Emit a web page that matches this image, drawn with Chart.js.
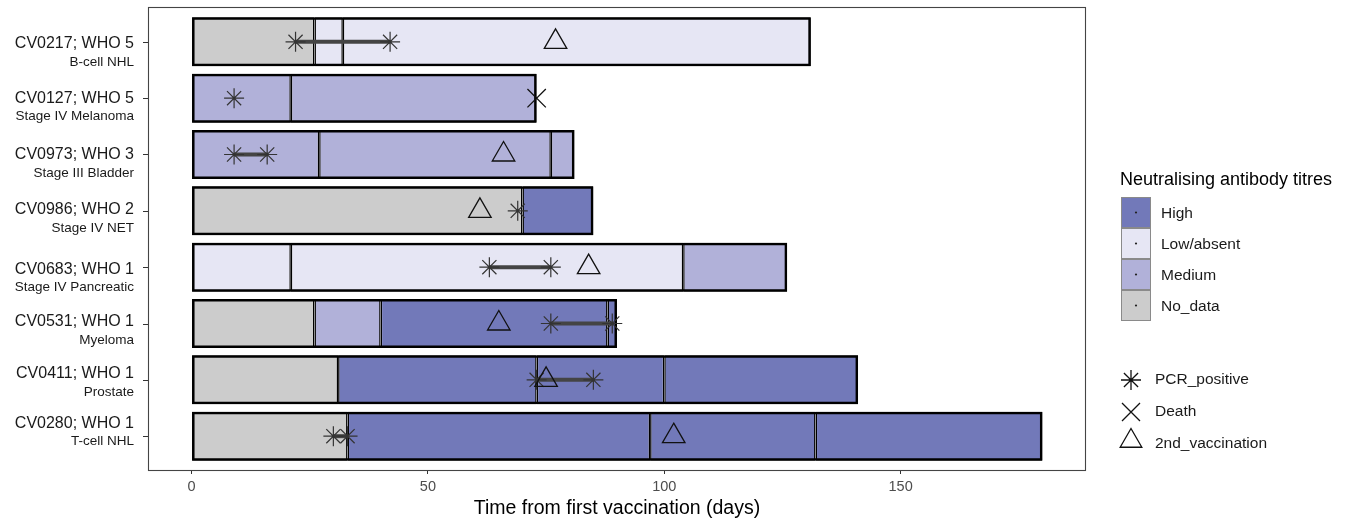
<!DOCTYPE html>
<html>
<head>
<meta charset="utf-8">
<title>Swimmer plot</title>
<script src="https://cdn.jsdelivr.net/npm/chart.js@4.4.1/dist/chart.umd.min.js"></script>
<style>
  body { margin: 0; background: #fff; }
  canvas { display: block; }
</style>
</head>
<body>
<canvas id="swimmer" width="1367" height="521"></canvas>
<script>
// Patients, top to bottom
const patientLabels = ["CV0217; WHO 5", "CV0127; WHO 5", "CV0973; WHO 3", "CV0986; WHO 2",
  "CV0683; WHO 1", "CV0531; WHO 1", "CV0411; WHO 1", "CV0280; WHO 1"];
const diagnoses = ["B-cell NHL", "Stage IV Melanoma", "Stage III Bladder", "Stage IV NET",
  "Stage IV Pancreatic", "Myeloma", "Prostate", "T-cell NHL"];

// Segment boundaries (days) and the titre for each segment
const segmentBreaks = [
  [0, 26, 32, 131],
  [0, 21, 73],
  [0, 27, 76, 81],
  [0, 70, 85],
  [0, 21, 104, 126],
  [0, 26, 40, 88, 90],
  [0, 31, 73, 100, 141],
  [0, 33, 97, 132, 180]
];
const segmentTitres = [
  ["No_data", "Low/absent", "Low/absent"],
  ["Medium", "Medium"],
  ["Medium", "Medium", "Medium"],
  ["No_data", "High"],
  ["Low/absent", "Low/absent", "Medium"],
  ["No_data", "Medium", "High", "High"],
  ["No_data", "High", "High", "High"],
  ["No_data", "High", "High", "High"]
];

// Events
const pcrPositiveDays = [[22, 42], [9], [9, 16], [69], [63, 76], [76, 89], [73, 85], [30, 33]];
const deathDays = [null, 73, null, null, null, null, null, null];
const secondVaccinationDays = [77, null, 66, 61, 84, 65, 75, 102];

const titreLevels = ["High", "Low/absent", "Medium", "No_data"];
const titreColors = ["#7279b9", "#e6e6f4", "#b1b1d9", "#cccccc"];
const xTicks = [0, 50, 100, 150];

// small vertical nudges of the y labels (px), as in the original
const labelNudge = [2, 0, 0, -1, 2, -2, -6, -13];

const FONT = "'Liberation Sans', Arial, Helvetica, sans-serif";
Chart.defaults.font.family = FONT;

function titreColor(t) {
  return titreColors[titreLevels.indexOf(t)];
}

const barShape = { indexAxis: "y", grouped: false, borderSkipped: false, categoryPercentage: 1, barPercentage: 0.87 };

// Build bar datasets, one per segment slot
const datasets = [];
const maxSegs = Math.max(...segmentTitres.map(s => s.length));
for (let k = 0; k < maxSegs; k++) {
  const data = [];
  segmentTitres.forEach((segs, i) => {
    if (segs.length > k) {
      data.push({ y: i, x: [segmentBreaks[i][k], segmentBreaks[i][k + 1]], titre: segs[k] });
    }
  });
  datasets.push(Object.assign({
    type: "bar",
    label: "seg" + k,
    data: data,
    backgroundColor: c => c.raw ? titreColor(c.raw.titre) : "#ccc",
    borderColor: "#000",
    borderWidth: 1.5,
    order: 10
  }, barShape));
}

// heavier outline round each whole bar
datasets.push(Object.assign({
  type: "bar",
  label: "outline",
  data: segmentBreaks.map((b, i) => ({ y: i, x: [b[0], b[b.length - 1]] })),
  backgroundColor: "rgba(0,0,0,0)",
  borderColor: "#000",
  borderWidth: 2.5,
  order: 9
}, barShape));

// Lines between first and last PCR positive
pcrPositiveDays.forEach((days, i) => {
  if (days.length > 1) {
    datasets.push({
      type: "line",
      data: [{ x: days[0], y: i }, { x: days[days.length - 1], y: i }],
      borderColor: "#444",
      borderWidth: 4,
      pointRadius: 0,
      order: 5
    });
  }
});

const pcrPoints = [];
pcrPositiveDays.forEach((days, i) => days.forEach(d => pcrPoints.push({ x: d, y: i })));
datasets.push({
  type: "scatter",
  label: "PCR_positive",
  data: pcrPoints,
  pointStyle: "star",
  pointRadius: 10,
  borderColor: "#333",
  borderWidth: 1.2,
  order: 3
});
datasets.push({
  type: "scatter",
  label: "Death",
  data: deathDays.map((d, i) => d === null ? null : { x: d, y: i }).filter(p => p),
  pointStyle: "crossRot",
  pointRadius: 13,
  borderColor: "#111",
  borderWidth: 1.3,
  order: 2
});
datasets.push({
  type: "scatter",
  label: "2nd_vaccination",
  data: secondVaccinationDays.map((d, i) => d === null ? null : { x: d, y: i }).filter(p => p),
  pointStyle: "triangle",
  pointRadius: 13,
  backgroundColor: "rgba(0,0,0,0)",
  borderColor: "#111",
  borderWidth: 1.3,
  order: 1
});

// legend marker helpers
function drawAsterisk(ctx, x, y, r) {
  const d = r * Math.SQRT1_2;
  ctx.beginPath();
  ctx.moveTo(x - r, y); ctx.lineTo(x + r, y);
  ctx.moveTo(x, y - r); ctx.lineTo(x, y + r);
  ctx.moveTo(x - d, y - d); ctx.lineTo(x + d, y + d);
  ctx.moveTo(x - d, y + d); ctx.lineTo(x + d, y - d);
  ctx.stroke();
}
function drawCross(ctx, x, y, d) {
  ctx.beginPath();
  ctx.moveTo(x - d, y - d); ctx.lineTo(x + d, y + d);
  ctx.moveTo(x - d, y + d); ctx.lineTo(x + d, y - d);
  ctx.stroke();
}
function drawTriangle(ctx, x, y, r) {
  ctx.beginPath();
  for (let j = 0; j < 3; j++) {
    const a = j * 2 * Math.PI / 3;
    const px = x + Math.sin(a) * r, py = y - Math.cos(a) * r;
    if (j === 0) ctx.moveTo(px, py); else ctx.lineTo(px, py);
  }
  ctx.closePath();
  ctx.stroke();
}

const decorPlugin = {
  id: "decor",
  afterDraw(chart) {
    const ctx = chart.ctx;
    const area = chart.chartArea;
    const yScale = chart.scales.y;
    ctx.save();

    // panel border
    ctx.strokeStyle = "#444";
    ctx.lineWidth = 1.1;
    ctx.strokeRect(area.left - 0.5, area.top - 0.5, area.right - area.left + 1, area.bottom - area.top + 1);

    // y tick marks and two-line labels
    ctx.textAlign = "right";
    ctx.textBaseline = "middle";
    patientLabels.forEach((lab, i) => {
      const y = yScale.getPixelForValue(i);
      ctx.strokeStyle = "#333";
      ctx.lineWidth = 1;
      ctx.beginPath();
      ctx.moveTo(area.left - 6, Math.round(y) + 0.5);
      ctx.lineTo(area.left - 1, Math.round(y) + 0.5);
      ctx.stroke();
      const y1 = y + labelNudge[i];
      ctx.fillStyle = "#1a1a1a";
      ctx.font = "16px " + FONT;
      ctx.fillText(lab, 134, y1);
      ctx.font = "13.5px " + FONT;
      ctx.fillText(diagnoses[i], 134, y1 + 18.5);
    });

    // x axis title
    ctx.textAlign = "center";
    ctx.fillStyle = "#000";
    ctx.font = "19.5px " + FONT;
    ctx.fillText("Time from first vaccination (days)", (area.left + area.right) / 2, 509);

    // legend: titres
    ctx.textAlign = "left";
    ctx.font = "18px " + FONT;
    ctx.fillText("Neutralising antibody titres", 1120, 180);
    const bx = 1121, bw = 30, bh = 31, by0 = 197;
    titreLevels.forEach((lvl, j) => {
      const by = by0 + j * bh;
      ctx.fillStyle = titreColors[j];
      ctx.fillRect(bx, by, bw, bh);
      ctx.strokeStyle = "#8a8a8a";
      ctx.lineWidth = 1;
      ctx.strokeRect(bx + 0.5, by + 0.5, bw - 1, bh - 1);
      ctx.fillStyle = "#222";
      ctx.beginPath();
      ctx.arc(bx + bw / 2, by + bh / 2, 1.1, 0, Math.PI * 2);
      ctx.fill();
      ctx.fillStyle = "#1a1a1a";
      ctx.font = "15.5px " + FONT;
      ctx.fillText(lvl, 1161, by + bh / 2 + 1);
    });

    // legend: events
    ctx.strokeStyle = "#111";
    ctx.lineWidth = 1.3;
    drawAsterisk(ctx, 1131, 380, 10);
    drawCross(ctx, 1131, 412, 9);
    drawTriangle(ctx, 1131, 441, 12.5);
    ctx.fillStyle = "#1a1a1a";
    ctx.font = "15.5px " + FONT;
    ctx.fillText("PCR_positive", 1155, 380);
    ctx.fillText("Death", 1155, 412);
    ctx.fillText("2nd_vaccination", 1155, 444);

    ctx.restore();
  }
};

new Chart(document.getElementById("swimmer"), {
  type: "bar",
  data: { datasets: datasets },
  options: {
    responsive: false,
    animation: false,
    indexAxis: "y",
    layout: { autoPadding: false, padding: { left: 0, right: 282, top: 8, bottom: 0 } },
    plugins: {
      legend: { display: false },
      tooltip: { enabled: false },
      title: { display: false }
    },
    scales: {
      x: {
        type: "linear",
        position: "bottom",
        min: -9,
        max: 189,
        offset: false,
        afterBuildTicks: s => { s.ticks = xTicks.map(v => ({ value: v })); },
        afterFit: s => { s.height = 51; },
        grid: { display: true, offset: false, drawOnChartArea: false, drawTicks: true, tickLength: 4, color: "#333" },
        border: { display: false },
        ticks: { color: "#4d4d4d", font: { size: 14.5 }, padding: 4, maxRotation: 0 }
      },
      y: {
        type: "linear",
        min: -0.6,
        max: 7.6,
        reverse: true,
        offset: false,
        afterBuildTicks: s => { s.ticks = patientLabels.map((_, i) => ({ value: i })); },
        afterFit: s => { s.width = 149; },
        grid: { display: false, offset: false },
        border: { display: false },
        ticks: { display: false }
      }
    }
  },
  plugins: [decorPlugin]
});
</script>
</body>
</html>
